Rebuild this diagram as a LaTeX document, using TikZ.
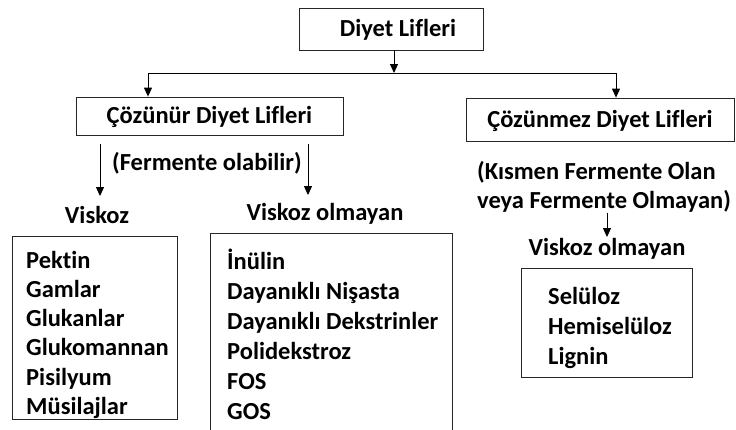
\documentclass[tikz,border=0pt]{standalone}
\usepackage{fontspec}
\setmainfont{Carlito}[Ligatures=CommonOff]
\usetikzlibrary{arrows.meta,positioning}

\tikzset{
  yazi/.style={font=\bfseries\fontsize{24.5}{29}\selectfont, inner sep=0pt,
    text height=15.5pt, text depth=0pt},
  kutu/.style={draw=black!85, line width=0.8pt, inner sep=0pt},
  ok/.style={-{Triangle[width=8pt,length=9pt]}, line width=1pt},
}

\begin{document}
\begin{tikzpicture}[x=1pt,y=-1pt]
  \def\Ya{268};
  \def\Yb{304};
  \useasboundingbox (0,0) rectangle (736,429);
  \clip (0,0) rectangle (736,429);

  % ana kutular
  \node[kutu, yazi, minimum width=184pt, minimum height=42pt] (ust) at (391,29) {\hspace{14pt}Diyet Lifleri};
  \node[kutu, yazi, minimum width=267pt, minimum height=38pt] (cozunur) at (209.5,116) {Çözünür Diyet Lifleri};
  \node[kutu, yazi, minimum width=268pt, minimum height=43pt] (cozunmez) at (600,119.5) {Çözünmez Diyet Lifleri};

  \coordinate (dal) at (394,73);
  \coordinate (sol) at (148,73);
  \coordinate (sag) at (616,73);
  \draw[ok] (dal |- ust.south) -- (dal);
  \draw[line width=1pt] (sol) -- (sag);
  \draw[ok] (sol) -- (sol |- cozunur.north);
  \draw[ok] (sag) -- (sag |- cozunmez.north);

  % cozunur taraf
  \node[yazi] (ferm) at (207,163) {(Fermente olabilir)};
  \node[yazi] (visk) at (97,216) {Viskoz};
  \node[yazi] (vo1) at (325,213) {Viskoz olmayan};
  \coordinate (f1) at (100,144);
  \coordinate (f2) at (308,144);
  \draw[ok, shorten >=12pt] (f1) -- (f1 |- visk.north);
  \draw[ok, shorten >=10pt] (f2) -- (f2 |- vo1.north);

  \node[kutu, minimum width=165pt, minimum height=183pt] (liste1) at (94.5,327.5) {};
  \node[kutu, minimum width=242pt, minimum height=207pt] (liste2) at (331,336.5) {};
  \foreach \ad [count=\i] in {Pektin, Gamlar, Glukanlar, Glukomannan, Pisilyum, Müsilajlar}
    \node[yazi, anchor=base west] (vis\i) at (26,{\Ya+29.3*(\i-1)}) {\ad};
  \foreach \ad [count=\i] in {İnülin, Dayanıklı Nişasta, Dayanıklı Dekstrinler, Polidekstroz, FOS, GOS}
    \node[yazi, anchor=base west] (vol\i) at (227,{\Ya+1+30*(\i-1)}) {\ad};

  % cozunmez taraf
  \node[yazi, text height=, text depth=, align=left, anchor=west] (kismen) at (477,187)
    {(Kısmen Fermente Olan\\veya Fermente Olmayan)};
  \node[yazi] (vo2) at (607,248) {Viskoz olmayan};
  \draw[ok, shorten >=3pt] (kismen.south -| vo2) -- (vo2.north);

  \node[kutu, minimum width=171pt, minimum height=109pt] (liste3) at (606.5,322.5) {};
  \foreach \ad [count=\i] in {Selüloz, Hemiselüloz, Lignin}
    \node[yazi, anchor=base west] (sel\i) at (548,{\Yb+30*(\i-1)}) {\ad};
\end{tikzpicture}
\end{document}
